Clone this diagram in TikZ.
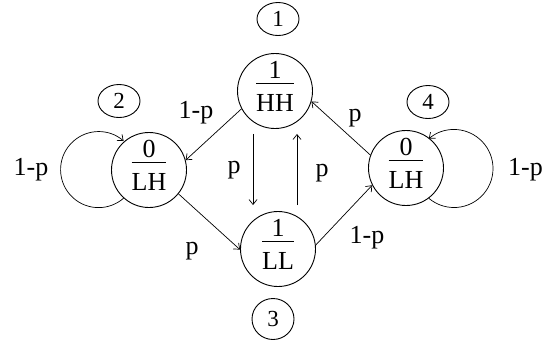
\documentclass[tikz,border=0pt]{standalone}
\usepackage{fontspec}
\setmainfont{Liberation Serif}
\usetikzlibrary{arrows.meta,calc,shapes.geometric}
\newcommand\stfrac[2]{\vbox{\setbox0\hbox{#2}\hbox to\wd0{\hss#1\hss}\kern4pt\hrule height0.8pt width\wd0\kern10.5pt\box0\kern9pt}}
\begin{document}
\begin{tikzpicture}[x=1pt,y=1pt,
  state/.style={circle,draw,line width=0.9pt,minimum size=75pt,inner sep=0pt,font=\fontsize{26}{28}\selectfont},
  tag/.style={ellipse,draw,line width=0.9pt,minimum width=42pt,minimum height=33pt,inner sep=0pt,font=\fontsize{23}{24}\selectfont},
  lbl/.style={font=\fontsize{26}{28}\selectfont,inner sep=0pt},
  arr/.style={line width=0.7pt,-{Straight Barb[length=5pt,width=8pt]}}]
\useasboundingbox (0,0) rectangle (553,-349);
\node[state] (n1) at (275,-91) {\stfrac{1}{HH}};
\node[state] (n2) at (149,-170) {\stfrac{0}{LH}};
\node[state] (n3) at (278,-249) {\stfrac{1}{LL}};
\node[state] (n4) at (406,-168) {\stfrac{0}{LH}};
\node[tag] (t1) at (278,-19) {1};
\node[tag] (t2) at (119,-101) {2};
\node[tag,minimum height=41pt] (t3) at (273,-319) {3};
\node[tag] (t4) at (428,-102) {4};
\draw[arr] (n1.208) -- (n2.15);
\draw[arr] (n2.321) -- (n3.181);
\draw[arr] (n3.6) -- (n4.207);
\draw[arr] (n4.160) -- (n1.344);
\draw[arr,shorten <=5pt,shorten >=6pt] ([xshift=-22pt]n1.south) -- ([xshift=-22pt]n1.south |- n3.north);
\draw[arr,shorten <=6pt,shorten >=5pt] ([xshift=22pt]n1.south |- n3.north) -- ([xshift=22pt]n1.south);
\draw[arr] (n2.228.8) arc[start angle=311.2,end angle=48.8,radius=38];
\draw[arr] (n4.307.2) arc[start angle=229.8,end angle=490.2,radius=39];
\node[lbl] (l12) at (196,-113) {1-p};
\node[lbl] (lp2) at (31,-170) {1-p};
\node[lbl] (l13) at (234,-170) {p};
\node[lbl] (l31) at (322,-173) {p};
\node[lbl] (l23) at (192,-251) {p};
\node[lbl] (l34) at (367,-238) {1-p};
\node[lbl] (l41) at (355,-118) {p};
\node[lbl,anchor=west] (lp4) at (508,-170) {1-p};
\end{tikzpicture}
\end{document}
